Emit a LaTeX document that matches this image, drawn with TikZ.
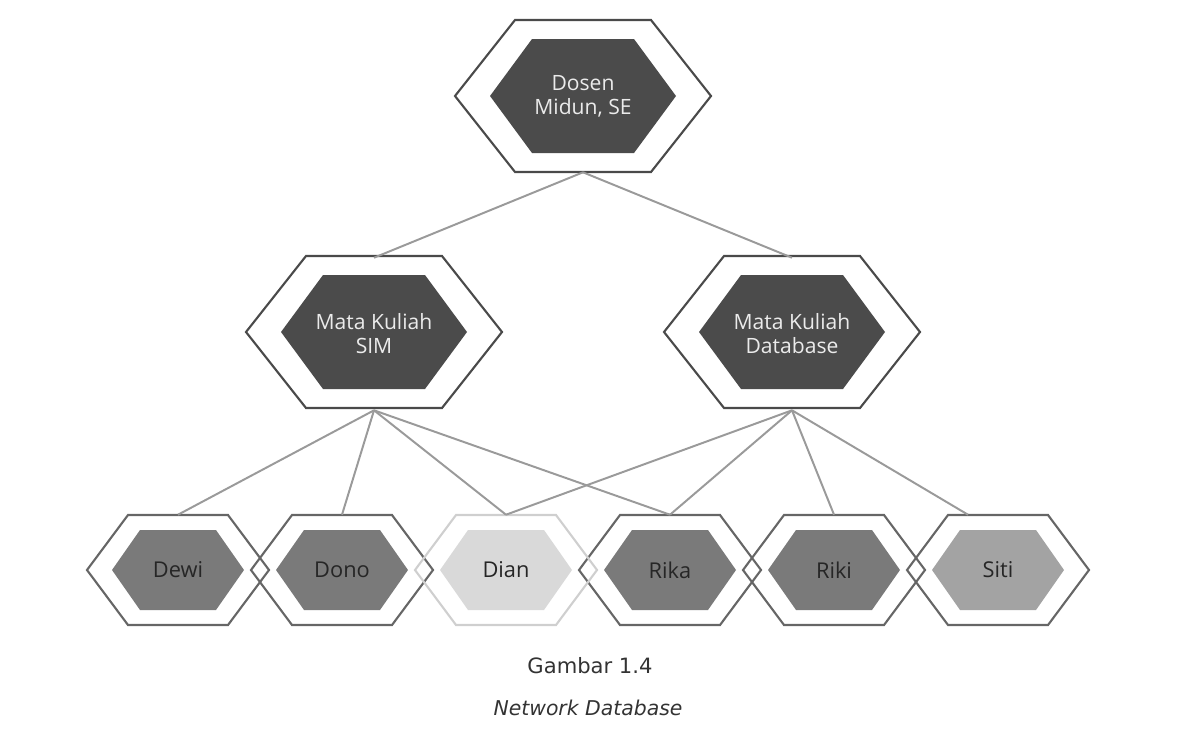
\documentclass[tikz,border=0pt]{standalone}
\usepackage{fontspec}
\newfontfamily\hexfont{Open Sans}
\newfontfamily\capfont{DejaVu Sans}
\usetikzlibrary{calc}
\definecolor{hexdark}{HTML}{4B4B4B}
\definecolor{hexmid}{HTML}{7A7A7A}
\definecolor{hexsoft}{HTML}{A3A3A3}
\definecolor{hexpale}{HTML}{D9D9D9}
\definecolor{rimdark}{HTML}{4A4A4A}
\definecolor{rimpale}{HTML}{CFCFCF}
\definecolor{linkgray}{HTML}{9A9A9A}
% hexagon round a node: node, half width, half height, half flat side, style
\newcommand\hexring[5]{%
  \path[#5] (#1) ++(-#2,0) -- ++(#2-#4,-#3) -- ++(2*#4,0) -- ++(#2-#4,#3)
    -- ++(-#2+#4,#3) -- ++(-2*#4,0) -- cycle;}
\begin{document}
\begin{tikzpicture}[x=0.025cm,y=-0.025cm,
    big/.style={inner sep=0,align=center,minimum height=3.8cm,text=white!92!black,
      font=\hexfont\fontsize{15}{17}\selectfont},
    small/.style={inner sep=0,align=center,minimum height=2.75cm,text=black!85,
      font=\hexfont\fontsize{15.5}{17}\selectfont},
    rim/.style={draw=rimdark,line width=1.5pt},
    link/.style={draw=linkgray,line width=1.4pt}]
  \useasboundingbox (0,0) rectangle (1181,737);
  % hexagons first, texts on top
  \hexring{583,96}{93}{57}{51}{fill=hexdark}
  \hexring{374,332}{93}{57}{51}{fill=hexdark}
  \hexring{792,332}{93}{57}{51}{fill=hexdark}
  \hexring{583,96}{128}{76}{68}{rim}
  \hexring{374,332}{128}{76}{68}{rim}
  \hexring{792,332}{128}{76}{68}{rim}
  \foreach \x/\c in {178/hexmid,342/hexmid,506/hexpale,670/hexmid,834/hexmid,998/hexsoft}
    \hexring{\x,570}{66}{40}{38}{fill=\c};
  \foreach \x in {178,342,670,834,998}
    \hexring{\x,570}{91}{55}{50}{rim,draw=black!60};
  \hexring{506,570}{91}{55}{50}{rim,draw=rimpale}
  \node[big] (dosen) at (583,96) {Dosen\\Midun, SE};
  \node[big] (sim) at (374,334) {Mata Kuliah\\SIM};
  \node[big] (db) at (792,334) {Mata Kuliah\\Database};
  \node[small] (dewi) at (178,570) {Dewi};
  \node[small] (dono) at (342,570) {Dono};
  \node[small] (dian) at (506,570) {Dian};
  \node[small] (rika) at (670,570) {Rika};
  \node[small] (riki) at (834,570) {Riki};
  \node[small] (siti) at (998,570) {Siti};
  \draw[link] (dosen.south) -- (sim.north);
  \draw[link] (dosen.south) -- (db.north);
  \foreach \s in {dewi,dono,dian,rika}
    \draw[link] (sim.south) -- (\s.north);
  \foreach \s in {dian,rika,riki}
    \draw[link] (db.south) -- (\s.north);
  \draw[link] (db.south) -- ($(siti.north)+(-30,0)$);
  \node[anchor=base,font=\capfont\fontsize{15}{17}\selectfont,text=black!80] (fig) at (590,673) {Gambar 1.4};
  \node[anchor=base,font=\capfont\itshape\fontsize{14.5}{17}\selectfont,text=black!80] (title) at (588,715) {Network Database};
\end{tikzpicture}
\end{document}
